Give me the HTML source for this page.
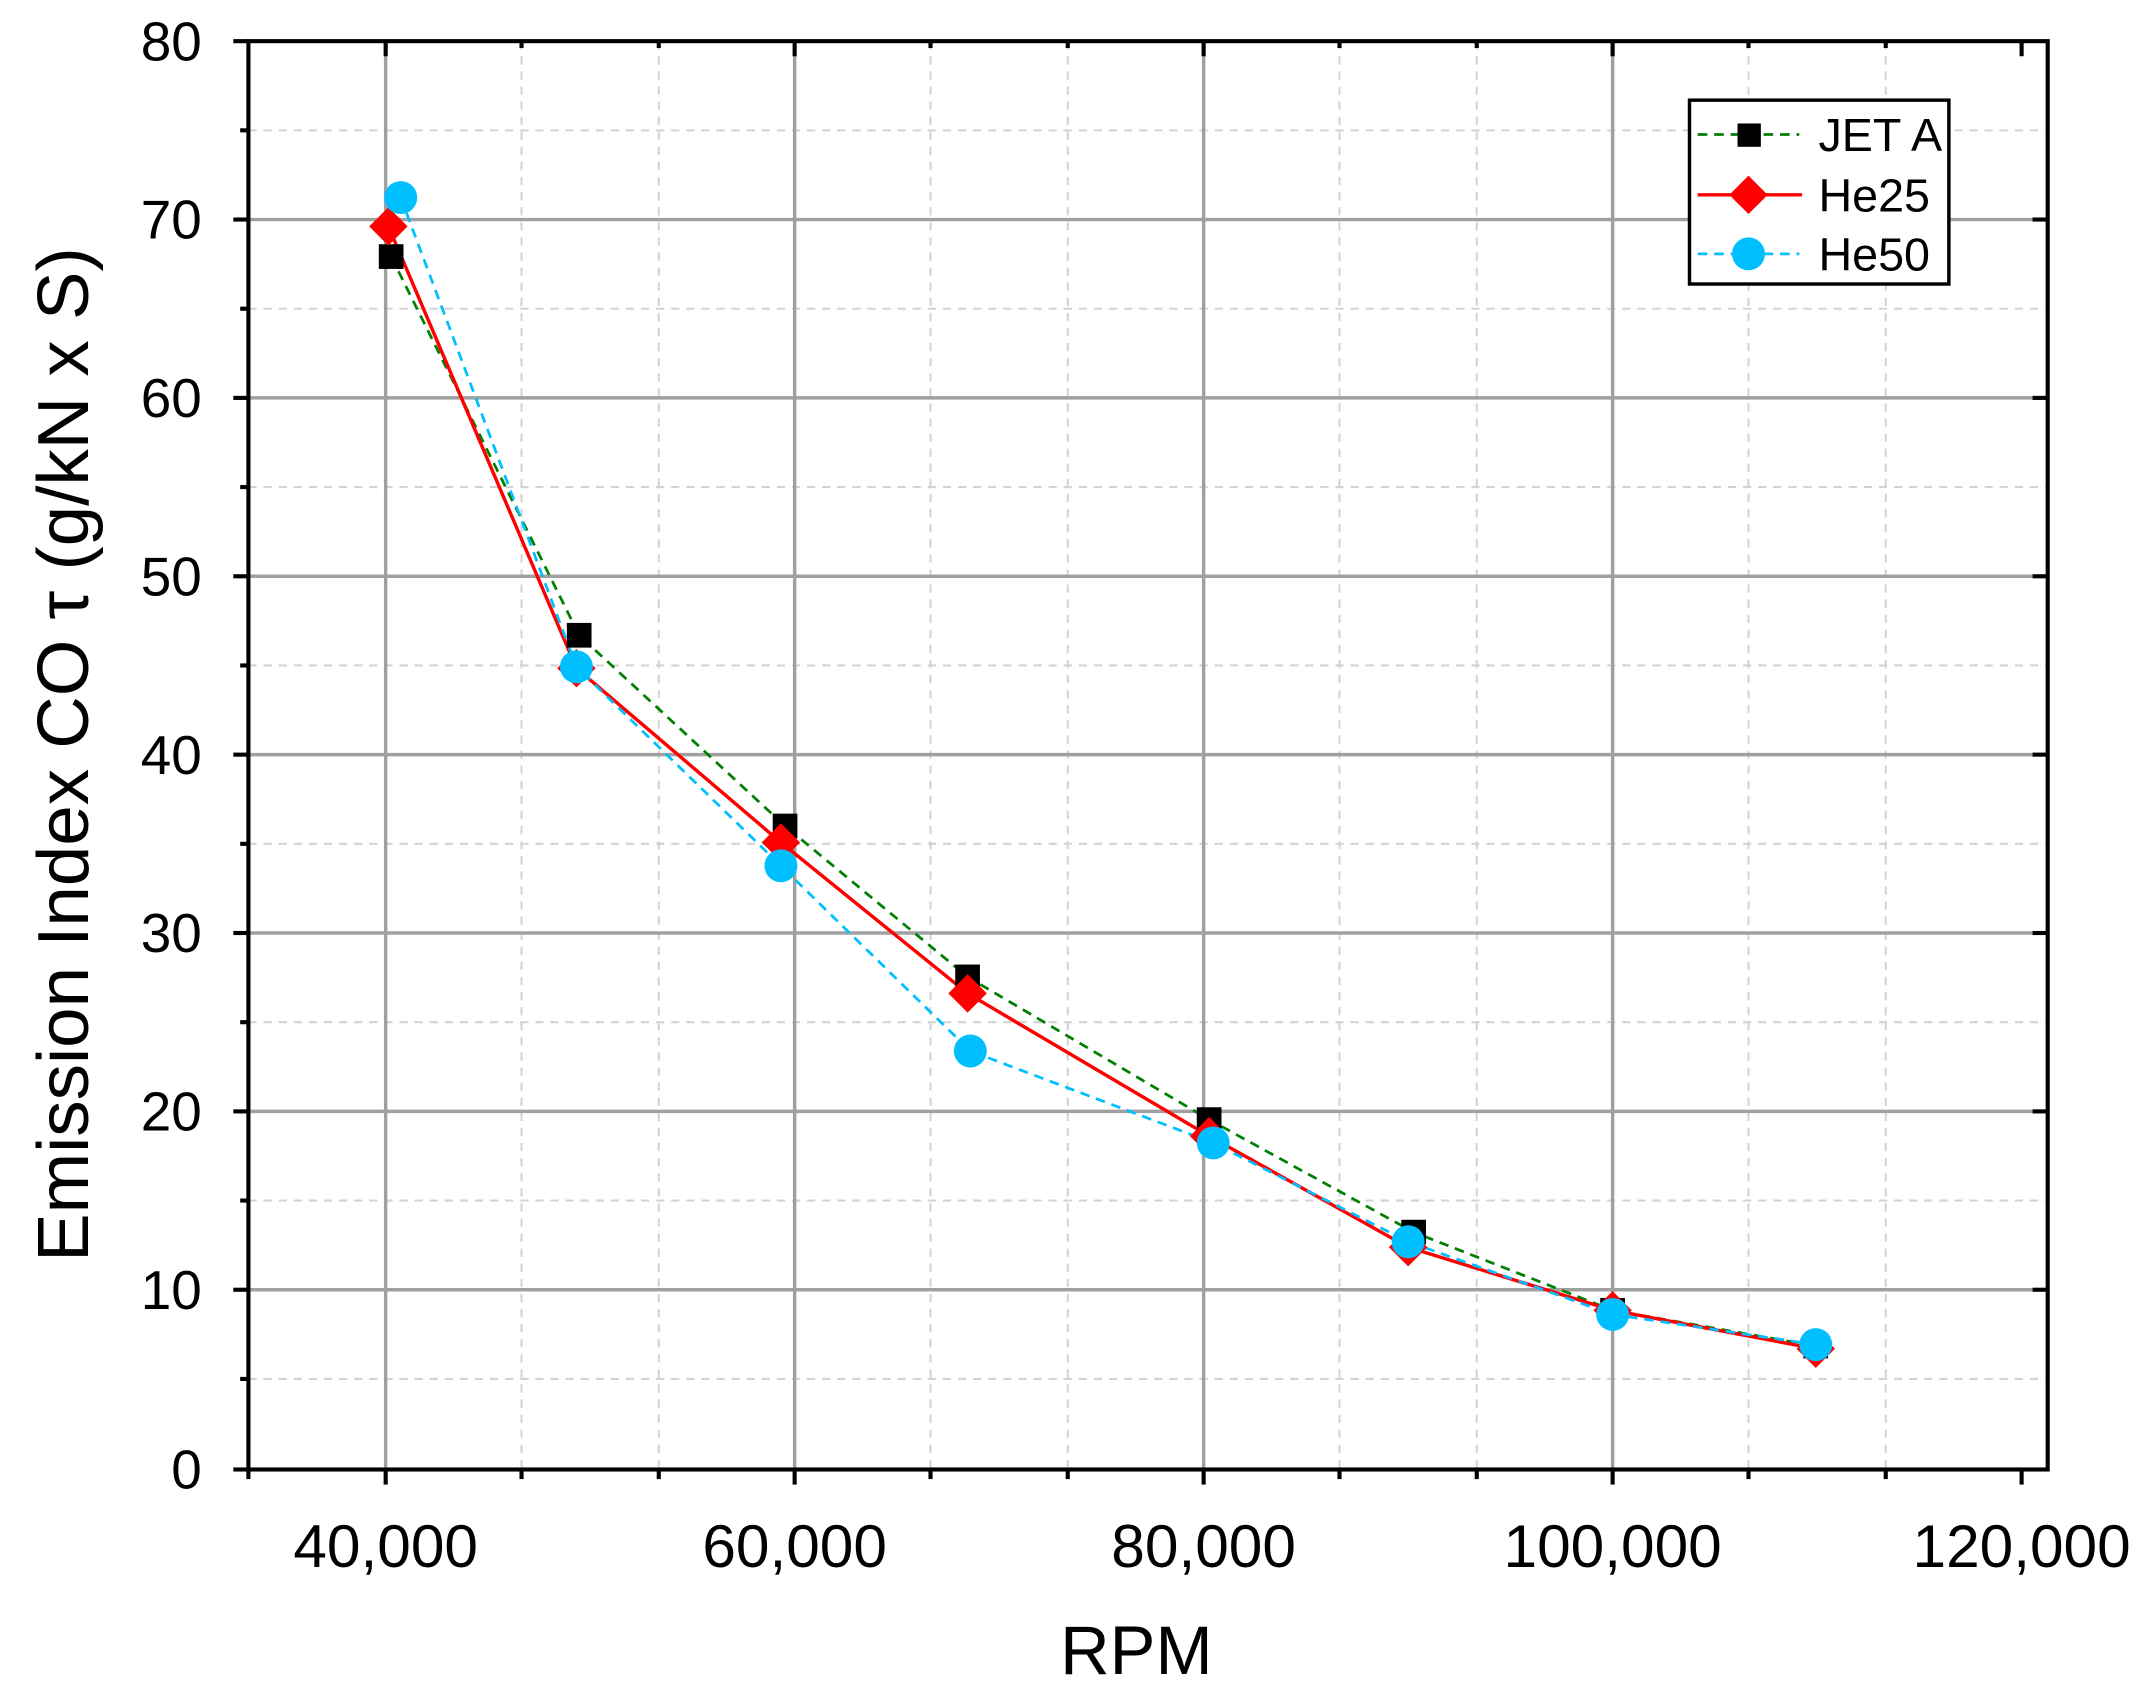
<!DOCTYPE html>
<html><head><meta charset="utf-8"><style>html,body{margin:0;padding:0;background:#fff}svg{display:block}</style></head>
<body>
<svg width="2152" height="1700" viewBox="0 0 1568 1239" preserveAspectRatio="none" xmlns="http://www.w3.org/2000/svg" font-family="Liberation Sans, sans-serif">
<rect width="1568" height="1239" fill="#fff"/>
<g stroke="#d3d3d3" stroke-width="1.5" stroke-dasharray="6,5">
<line x1="380" y1="30" x2="380" y2="1071"/><line x1="480" y1="30" x2="480" y2="1071"/>
<line x1="678" y1="30" x2="678" y2="1071"/><line x1="778" y1="30" x2="778" y2="1071"/>
<line x1="976" y1="30" x2="976" y2="1071"/><line x1="1076" y1="30" x2="1076" y2="1071"/>
<line x1="1274" y1="30" x2="1274" y2="1071"/><line x1="1374" y1="30" x2="1374" y2="1071"/>
<line x1="181" y1="95" x2="1492" y2="95"/><line x1="181" y1="225" x2="1492" y2="225"/>
<line x1="181" y1="355" x2="1492" y2="355"/><line x1="181" y1="485" x2="1492" y2="485"/>
<line x1="181" y1="615" x2="1492" y2="615"/><line x1="181" y1="745" x2="1492" y2="745"/>
<line x1="181" y1="875" x2="1492" y2="875"/><line x1="181" y1="1005" x2="1492" y2="1005"/>
</g>
<g stroke="#a0a0a0" stroke-width="2.5">
<line x1="281" y1="30" x2="281" y2="1071"/><line x1="579" y1="30" x2="579" y2="1071"/>
<line x1="877" y1="30" x2="877" y2="1071"/><line x1="1175" y1="30" x2="1175" y2="1071"/>
<line x1="181" y1="160" x2="1492" y2="160"/><line x1="181" y1="290" x2="1492" y2="290"/>
<line x1="181" y1="420" x2="1492" y2="420"/><line x1="181" y1="550" x2="1492" y2="550"/>
<line x1="181" y1="680" x2="1492" y2="680"/><line x1="181" y1="810" x2="1492" y2="810"/>
<line x1="181" y1="940" x2="1492" y2="940"/>
</g>
<rect x="181" y="30" width="1311" height="1041" fill="none" stroke="#000" stroke-width="3"/>
<g stroke="#000" stroke-width="3">
<line x1="281" y1="1071" x2="281" y2="1082"/><line x1="579" y1="1071" x2="579" y2="1082"/><line x1="877" y1="1071" x2="877" y2="1082"/><line x1="1175" y1="1071" x2="1175" y2="1082"/><line x1="1473" y1="1071" x2="1473" y2="1082"/>
<line x1="181" y1="1071" x2="181" y2="1078"/><line x1="380" y1="1071" x2="380" y2="1078"/><line x1="480" y1="1071" x2="480" y2="1078"/><line x1="678" y1="1071" x2="678" y2="1078"/><line x1="778" y1="1071" x2="778" y2="1078"/><line x1="976" y1="1071" x2="976" y2="1078"/><line x1="1076" y1="1071" x2="1076" y2="1078"/><line x1="1274" y1="1071" x2="1274" y2="1078"/><line x1="1374" y1="1071" x2="1374" y2="1078"/>
<line x1="281" y1="30" x2="281" y2="41"/><line x1="579" y1="30" x2="579" y2="41"/><line x1="877" y1="30" x2="877" y2="41"/><line x1="1175" y1="30" x2="1175" y2="41"/><line x1="1473" y1="30" x2="1473" y2="41"/>
<line x1="380" y1="30" x2="380" y2="35"/><line x1="480" y1="30" x2="480" y2="35"/><line x1="678" y1="30" x2="678" y2="35"/><line x1="778" y1="30" x2="778" y2="35"/><line x1="976" y1="30" x2="976" y2="35"/><line x1="1076" y1="30" x2="1076" y2="35"/><line x1="1274" y1="30" x2="1274" y2="35"/><line x1="1374" y1="30" x2="1374" y2="35"/>
<line x1="170" y1="30" x2="181" y2="30"/><line x1="170" y1="160" x2="181" y2="160"/><line x1="170" y1="290" x2="181" y2="290"/><line x1="170" y1="420" x2="181" y2="420"/><line x1="170" y1="550" x2="181" y2="550"/><line x1="170" y1="680" x2="181" y2="680"/><line x1="170" y1="810" x2="181" y2="810"/><line x1="170" y1="940" x2="181" y2="940"/><line x1="170" y1="1071" x2="181" y2="1071"/>
<line x1="175" y1="95" x2="181" y2="95"/><line x1="175" y1="225" x2="181" y2="225"/><line x1="175" y1="355" x2="181" y2="355"/><line x1="175" y1="485" x2="181" y2="485"/><line x1="175" y1="615" x2="181" y2="615"/><line x1="175" y1="745" x2="181" y2="745"/><line x1="175" y1="875" x2="181" y2="875"/><line x1="175" y1="1005" x2="181" y2="1005"/>
<line x1="1481" y1="160" x2="1492" y2="160"/><line x1="1481" y1="290" x2="1492" y2="290"/><line x1="1481" y1="420" x2="1492" y2="420"/><line x1="1481" y1="550" x2="1492" y2="550"/><line x1="1481" y1="680" x2="1492" y2="680"/><line x1="1481" y1="810" x2="1492" y2="810"/><line x1="1481" y1="940" x2="1492" y2="940"/>
</g>
<g font-size="40" fill="#000" text-anchor="end">
<text x="147" y="44">80</text><text x="147" y="174">70</text><text x="147" y="304">60</text><text x="147" y="434">50</text><text x="147" y="564">40</text><text x="147" y="694">30</text><text x="147" y="824">20</text><text x="147" y="954">10</text><text x="147" y="1085">0</text>
</g>
<g font-size="44" fill="#000" text-anchor="middle">
<text x="281" y="1142">40,000</text><text x="579" y="1142">60,000</text><text x="877" y="1142">80,000</text><text x="1175" y="1142">100,000</text><text x="1473" y="1142">120,000</text>
<text x="828" y="1220" font-size="50">RPM</text>
<text transform="translate(64,550) rotate(-90)" font-size="53">Emission Index CO τ (g/kN x S)</text>
</g>
<polyline fill="none" stroke="#008000" stroke-width="2" stroke-dasharray="7,5" points="285,187 422,463 572,602 705,712 881,816 1030,898 1175,955 1323,981"/>
<polyline fill="none" stroke="#ff0000" stroke-width="2.5" points="283,165 420,487 569,614 705,724 881,828 1026,909 1175,955 1323,983"/>
<polyline fill="none" stroke="#00bfff" stroke-width="2" stroke-dasharray="7,5" points="292,144 420,486 569,631 707,766 884,833 1026,905 1175,958 1323,980"/>
<g fill="#000">
<rect x="276" y="178" width="18" height="18"/><rect x="413" y="454" width="18" height="18"/><rect x="563" y="593" width="18" height="18"/><rect x="696" y="703" width="18" height="18"/><rect x="872" y="807" width="18" height="18"/><rect x="1021" y="889" width="18" height="18"/><rect x="1166" y="946" width="18" height="18"/><rect x="1314" y="972" width="18" height="18"/>
</g>
<g fill="#ff0000">
<polygon points="283,151 297,165 283,179 269,165"/><polygon points="420,473 434,487 420,501 406,487"/><polygon points="569,600 583,614 569,628 555,614"/><polygon points="705,710 719,724 705,738 691,724"/><polygon points="881,814 895,828 881,842 867,828"/><polygon points="1026,895 1040,909 1026,923 1012,909"/><polygon points="1175,941 1189,955 1175,969 1161,955"/><polygon points="1323,969 1337,983 1323,997 1309,983"/>
</g>
<g fill="#00bfff">
<circle cx="292" cy="144" r="12"/><circle cx="420" cy="486" r="12"/><circle cx="569" cy="631" r="12"/><circle cx="707" cy="766" r="12"/><circle cx="884" cy="833" r="12"/><circle cx="1026" cy="905" r="12"/><circle cx="1175" cy="958" r="12"/><circle cx="1323" cy="980" r="12"/>
</g>
<rect x="1231" y="73" width="189" height="134" fill="#fff" stroke="#000" stroke-width="2.5"/>
<line x1="1237" y1="98" x2="1311" y2="98" stroke="#008000" stroke-width="2" stroke-dasharray="7,5"/>
<rect x="1266" y="90" width="17" height="17" fill="#000"/>
<line x1="1237" y1="142" x2="1313" y2="142" stroke="#ff0000" stroke-width="2.5"/>
<polygon points="1274,128 1288,142 1274,156 1260,142" fill="#ff0000"/>
<line x1="1237" y1="185" x2="1311" y2="185" stroke="#00bfff" stroke-width="2" stroke-dasharray="7,5"/>
<circle cx="1274" cy="185" r="12" fill="#00bfff"/>
<g font-size="34" fill="#000"><text x="1325" y="110">JET A</text><text x="1325" y="154">He25</text><text x="1325" y="197">He50</text></g>
</svg>
</body></html>
